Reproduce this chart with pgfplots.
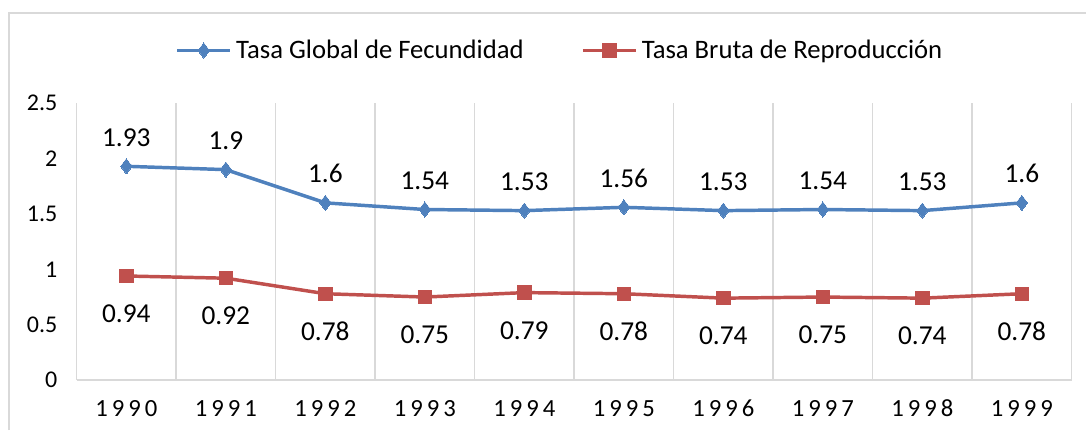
\documentclass[border=0pt]{standalone}
\usepackage{fontspec}
\setmainfont{Carlito}
\usepackage{pgfplots}
\pgfplotsset{compat=1.18}
\definecolor{cblue}{HTML}{4F81BD}
\definecolor{cred}{HTML}{C0504D}
\definecolor{cgrid}{HTML}{D9D9D9}
\newcommand{\yr}[4]{#1\kern.16em#2\kern.16em#3\kern.16em#4}
\begin{document}
\begin{tikzpicture}[x=0.75pt,y=0.75pt]
\useasboundingbox (0,0) rectangle (1086,430);
\draw[cgrid, line width=1.5pt] (9,0) -- (9,417) -- (1086,417);
\begin{axis}[
  at={(77,45)}, anchor=south west,
  scale only axis, width=746.25pt, height=207.75pt,
  xmin=-0.5, xmax=9.5, ymin=0, ymax=2.5,
  clip=false,
  ytick={0,0.5,1,1.5,2,2.5},
  yticklabels={0,0.5,1,1.5,2,2.5},
  xtick={0,1,2,3,4,5,6,7,8,9},
  xticklabels={\yr 1990,\yr 1991,\yr 1992,\yr 1993,\yr 1994,\yr 1995,\yr 1996,\yr 1997,\yr 1998,\yr 1999},
  minor xtick={-0.5,0.5,1.5,2.5,3.5,4.5,5.5,6.5,7.5,8.5,9.5},
  xminorgrids,
  minor grid style={cgrid, line width=1.2pt},
  axis x line*=bottom, axis y line*=left,
  axis line style={cgrid, line width=1.2pt, -},
  major tick length=0pt, minor tick length=0pt,
  yticklabel style={font=\fontsize{18}{20}\selectfont, anchor=east, xshift=-11pt},
  xticklabel style={font=\fontsize{18.5}{21}\selectfont, anchor=center, yshift=-21pt},
  legend style={at={(axis description cs:0.095,1.19)}, anchor=west, draw=none,
    fill=none, font=\fontsize{20}{23}\selectfont,
    nodes={inner xsep=3pt},
    /tikz/every even column/.append style={column sep=40pt}},
  legend columns=2,
  legend image code/.code={\draw[mark repeat=2,mark phase=2,#1] plot coordinates {(0pt,0pt) (20pt,0pt) (40pt,0pt)};},
  nodes near coords,
  point meta=explicit symbolic,
]
\addplot[cblue, line width=2.6pt, mark=diamond*, mark size=5.7pt, mark options={solid, line width=0pt, fill=cblue},
  every node near coord/.append style={black, anchor=center, yshift=21.75pt, font=\fontsize{20.5}{23}\selectfont}]
  coordinates {(0,1.93) [1.93] (1,1.9) [1.9] (2,1.6) [1.6] (3,1.54) [1.54] (4,1.53) [1.53]
   (5,1.56) [1.56] (6,1.53) [1.53] (7,1.54) [1.54] (8,1.53) [1.53] (9,1.6) [1.6]};
\addlegendentry{Tasa Global de Fecundidad}
\addplot[cred, line width=2.6pt, mark=square*, mark size=5pt, mark options={solid, line width=0pt, fill=cred},
  every node near coord/.append style={black, anchor=center, yshift=-28.5pt, font=\fontsize{20.5}{23}\selectfont}]
  coordinates {(0,0.94) [0.94] (1,0.92) [0.92] (2,0.78) [0.78] (3,0.75) [0.75] (4,0.79) [0.79]
   (5,0.78) [0.78] (6,0.74) [0.74] (7,0.75) [0.75] (8,0.74) [0.74] (9,0.78) [0.78]};
\addlegendentry{Tasa Bruta de Reproducción}
\end{axis}
\end{tikzpicture}
\end{document}
